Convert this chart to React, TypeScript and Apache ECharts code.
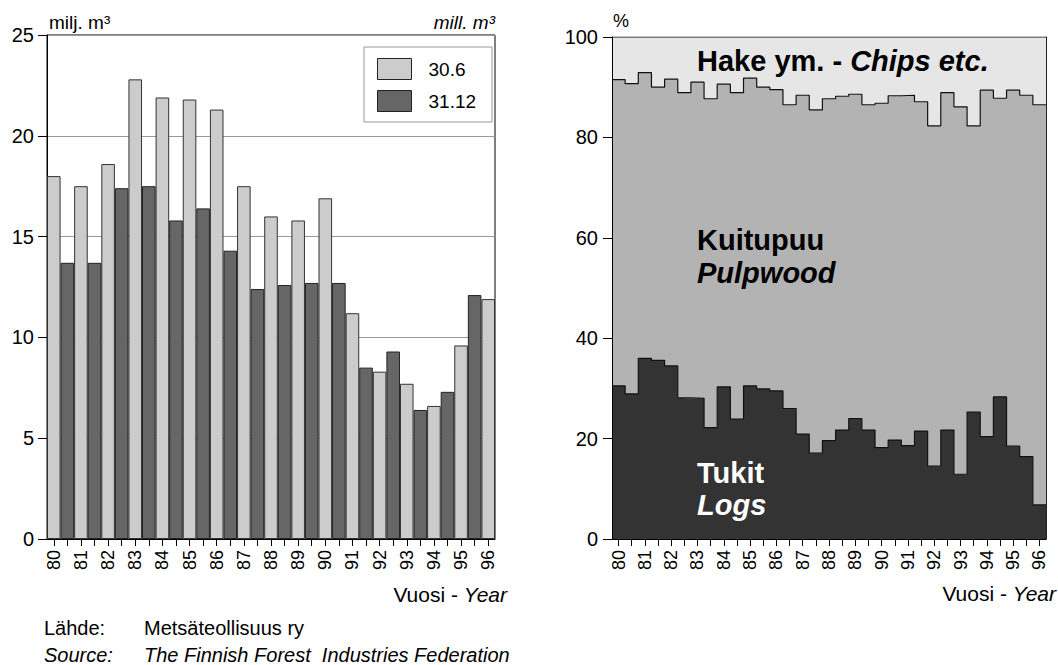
import React, { useEffect, useRef } from "react";
import * as echarts from "echarts";

// ---- Data ----
const years = ["80", "81", "82", "83", "84", "85", "86", "87", "88", "89", "90", "91", "92", "93", "94", "95", "96"];
// Stocks on 30.6 (mill. m3), one per year
const juneStock = [18.0, 17.5, 18.6, 22.8, 21.9, 21.8, 21.3, 17.5, 16.0, 15.8, 16.9, 11.2, 8.3, 7.7, 6.6, 9.6, 11.9];
// Stocks on 31.12 (mill. m3), 80..95
const decStock = [13.7, 13.7, 17.4, 17.5, 15.8, 16.4, 14.3, 12.4, 12.6, 12.7, 12.7, 8.5, 9.3, 6.4, 7.3, 12.1];

// Half-year shares (%), 33 periods
const logsShare = [30.5, 28.9, 36.0, 35.6, 34.5, 28.1, 28.0, 22.2, 30.3, 23.9, 30.5, 29.9, 29.5, 26.0, 20.9, 17.1, 19.6, 21.7, 24.0, 21.7, 18.2, 19.7, 18.6, 21.5, 14.5, 21.7, 12.9, 25.3, 20.4, 28.3, 18.5, 16.4, 6.8];
const pulpShare = [61.0, 61.8, 56.9, 54.4, 57.1, 60.8, 63.0, 65.5, 60.3, 65.0, 61.3, 60.1, 60.0, 60.5, 67.5, 68.4, 68.1, 66.5, 64.6, 64.8, 68.6, 68.6, 69.8, 65.6, 67.8, 67.2, 73.2, 57.0, 69.0, 59.5, 70.9, 72.0, 79.7];

const yTicksLeft = { min: 0, max: 25, interval: 5 };
const yTicksRight = { min: 0, max: 100, interval: 20 };

const FONT = "'Liberation Sans', Arial, Helvetica, sans-serif";
const NARROW = "'Liberation Sans Narrow', 'Arial Narrow', 'Liberation Sans', Arial, sans-serif";

export default function App() {
  const ref = useRef<HTMLDivElement>(null);
  useEffect(() => {
    if (!ref.current) return;
    const chart = echarts.init(ref.current, undefined, { renderer: "svg" });

    const nSlots = juneStock.length + decStock.length; // 33 half-year slots
    const slotLabels: string[] = [];
    const juneSlots: (number | string)[] = [];
    const decSlots: (number | string)[] = [];
    for (let i = 0; i < nSlots; i++) {
      if (i % 2 === 0) {
        slotLabels.push(years[i / 2]);
        juneSlots.push(juneStock[i / 2]);
        decSlots.push("-");
      } else {
        slotLabels.push(years[(i - 1) / 2] + "b");
        juneSlots.push("-");
        decSlots.push(decStock[(i - 1) / 2]);
      }
    }

    const nPer = logsShare.length;
    const chipsShare = logsShare.map((l, i) => +(100 - l - pulpShare[i]).toFixed(1));
    const ext = (a: number[]) => [...a, a[a.length - 1]];
    const boundaries = Array.from({ length: nPer + 1 }, (_, i) => String(i));
    const perLabels = Array.from({ length: nPer }, (_, i) => (i % 2 === 0 ? years[i / 2] : years[(i - 1) / 2] + "b"));

    const labelFmt = (v: string) => (v.endsWith("b") ? "" : v);

    const xCommon = {
      type: "category",
      boundaryGap: true,
      axisLine: { show: true, lineStyle: { color: "#000", width: 1 } },
      axisTick: { show: true, alignWithLabel: true, interval: 0, length: 7, lineStyle: { color: "#000" } },
      axisLabel: {
        interval: 0,
        rotate: 90,
        margin: 11,
        color: "#000",
        fontSize: 18,
        fontFamily: NARROW,
        formatter: labelFmt,
      },
      splitLine: { show: false },
    };

    const stepLine = { color: "#111", width: 1.2 };

    const option: any = {
      animation: false,
      backgroundColor: "#fff",
      textStyle: { fontFamily: FONT },
      grid: [
        { left: 47, top: 35, width: 448, height: 504, show: true, borderColor: "#000", borderWidth: 1, backgroundColor: "transparent" },
        { left: 612, top: 37, width: 434, height: 502, show: false },
      ],
      legend: {
        left: 364,
        top: 47,
        orient: "vertical",
        padding: [11, 16, 10, 13],
        itemWidth: 34,
        itemHeight: 21,
        itemGap: 10,
        backgroundColor: "#fff",
        borderColor: "#999",
        borderWidth: 1,
        icon: "rect",
        textStyle: { fontSize: 19, color: "#000", fontFamily: FONT, padding: [0, 0, 0, 12] },
        data: [
          { name: "30.6", itemStyle: { color: "#cccccc", borderColor: "#222", borderWidth: 1 } },
          { name: "31.12", itemStyle: { color: "#666666", borderColor: "#222", borderWidth: 1 } },
        ],
      },
      xAxis: [
        { ...xCommon, gridIndex: 0, data: slotLabels },
        { ...xCommon, gridIndex: 1, data: perLabels, z: 10 },
        { type: "category", gridIndex: 1, show: false, boundaryGap: false, data: boundaries },
      ],
      yAxis: [
        {
          type: "value",
          gridIndex: 0,
          ...yTicksLeft,
          axisLine: { show: true, lineStyle: { color: "#000" } },
          axisTick: { show: true, length: 9, lineStyle: { color: "#000" } },
          axisLabel: { margin: 13, color: "#000", fontSize: 20, fontFamily: FONT },
          splitLine: { show: true, lineStyle: { color: "#999", width: 1 } },
        },
        {
          type: "value",
          gridIndex: 1,
          z: 10,
          ...yTicksRight,
          axisLine: { show: true, lineStyle: { color: "#000" } },
          axisTick: { show: true, length: 9, lineStyle: { color: "#000" } },
          axisLabel: { margin: 14, color: "#000", fontSize: 20, fontFamily: FONT },
          splitLine: { show: false },
        },
        {
          type: "value",
          gridIndex: 1,
          position: "right",
          z: 10,
          ...yTicksRight,
          axisLine: { show: true, lineStyle: { color: "#222" } },
          axisTick: { show: false },
          axisLabel: { show: false },
          splitLine: { show: false },
        },
      ],
      series: [
        {
          name: "30.6",
          type: "bar",
          xAxisIndex: 0,
          yAxisIndex: 0,
          data: juneSlots,
          barGap: "-100%",
          barCategoryGap: "0%",
          itemStyle: { color: "#cccccc", borderColor: "#333", borderWidth: 1 },
        },
        {
          name: "31.12",
          type: "bar",
          xAxisIndex: 0,
          yAxisIndex: 0,
          data: decSlots,
          barGap: "-100%",
          barCategoryGap: "0%",
          itemStyle: { color: "#666666", borderColor: "#222", borderWidth: 1 },
        },
        {
          name: "Tukit",
          type: "line",
          xAxisIndex: 2,
          yAxisIndex: 1,
          stack: "share",
          step: "end",
          symbol: "none",
          lineStyle: stepLine,
          areaStyle: { color: "#333333", opacity: 1 },
          data: ext(logsShare),
        },
        {
          name: "Kuitupuu",
          type: "line",
          xAxisIndex: 2,
          yAxisIndex: 1,
          stack: "share",
          step: "end",
          symbol: "none",
          lineStyle: stepLine,
          areaStyle: { color: "#b3b3b3", opacity: 1 },
          data: ext(pulpShare),
        },
        {
          name: "Hake",
          type: "line",
          xAxisIndex: 2,
          yAxisIndex: 1,
          stack: "share",
          step: "end",
          symbol: "none",
          lineStyle: stepLine,
          areaStyle: { color: "#e6e6e6", opacity: 1 },
          data: ext(chipsShare),
        },
      ],
      graphic: [
        { type: "text", x: 49, y: 22, style: { text: "milj. m³", font: `19px ${FONT}`, fill: "#000", verticalAlign: "middle" } },
        { type: "text", x: 495, y: 22, style: { text: "mill. m³", font: `italic 19px ${FONT}`, fill: "#000", align: "right", verticalAlign: "middle" } },
        { type: "text", x: 613, y: 21, style: { text: "%", font: `18px ${FONT}`, fill: "#000", verticalAlign: "middle" } },
        {
          type: "text",
          x: 697,
          y: 61,
          z: 100,
          style: {
            text: "{a|Hake ym. - }{b|Chips etc.}",
            verticalAlign: "middle",
            rich: {
              a: { font: `bold 29px ${FONT}`, fill: "#000" },
              b: { font: `italic bold 29px ${FONT}`, fill: "#000" },
            },
          },
        },
        { type: "text", x: 697, y: 240, z: 100, style: { text: "Kuitupuu", font: `bold 29px ${FONT}`, fill: "#000", verticalAlign: "middle" } },
        { type: "text", x: 697, y: 273, z: 100, style: { text: "Pulpwood", font: `italic bold 29px ${FONT}`, fill: "#000", verticalAlign: "middle" } },
        { type: "text", x: 697, y: 473, z: 100, style: { text: "Tukit", font: `bold 29px ${FONT}`, fill: "#fff", verticalAlign: "middle" } },
        { type: "text", x: 697, y: 505, z: 100, style: { text: "Logs", font: `italic bold 29px ${FONT}`, fill: "#fff", verticalAlign: "middle" } },
        {
          type: "text",
          x: 507,
          y: 594,
          style: {
            text: "{a|Vuosi - }{b|Year}",
            align: "right",
            verticalAlign: "middle",
            rich: { a: { font: `21px ${FONT}`, fill: "#000" }, b: { font: `italic 21px ${FONT}`, fill: "#000" } },
          },
        },
        {
          type: "text",
          x: 1056,
          y: 593,
          style: {
            text: "{a|Vuosi - }{b|Year}",
            align: "right",
            verticalAlign: "middle",
            rich: { a: { font: `21px ${FONT}`, fill: "#000" }, b: { font: `italic 21px ${FONT}`, fill: "#000" } },
          },
        },
        { type: "text", x: 44, y: 628, style: { text: "Lähde:", font: `20px ${FONT}`, fill: "#000", verticalAlign: "middle" } },
        { type: "text", x: 144, y: 628, style: { text: "Metsäteollisuus ry", font: `20px ${FONT}`, fill: "#000", verticalAlign: "middle" } },
        { type: "text", x: 44, y: 655, style: { text: "Source:", font: `italic 20px ${FONT}`, fill: "#000", verticalAlign: "middle" } },
        { type: "text", x: 144, y: 655, style: { text: "The Finnish Forest  Industries Federation", font: `italic 20px ${FONT}`, fill: "#000", verticalAlign: "middle" } },
      ],
    };

    chart.setOption(option);
    return () => chart.dispose();
  }, []);

  return <div ref={ref} style={{ position: "absolute", left: 0, top: 0, width: 1058, height: 665 }} />;
}
